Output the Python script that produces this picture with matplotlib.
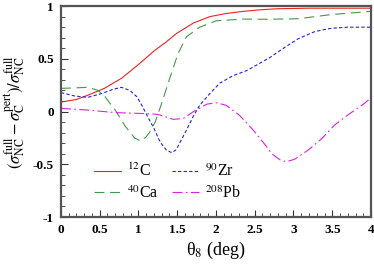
import matplotlib
matplotlib.use('Agg')
import matplotlib.pyplot as plt
import numpy as np
from matplotlib.ticker import MultipleLocator

plt.rcParams['font.family'] = 'serif'
plt.rcParams['font.serif'] = ['Liberation Serif', 'DejaVu Serif']
plt.rcParams['mathtext.fontset'] = 'stix'
plt.rcParams['axes.unicode_minus'] = False

# 12C
x_c = [0, 0.2, 0.35, 0.56, 0.78, 0.99, 1.21, 1.34, 1.49, 1.71, 1.92, 2.13, 2.35, 2.57, 2.8, 3.2, 3.6, 4.0]
y_c = [0.09, 0.115, 0.156, 0.22, 0.315, 0.44, 0.58, 0.65, 0.74, 0.84, 0.90, 0.93, 0.95, 0.965, 0.975, 0.98, 0.98, 0.98]

# 40Ca
x_ca = [0, 0.2, 0.35, 0.48, 0.57, 0.63, 0.70, 0.83, 0.95, 1.03, 1.1, 1.15, 1.22, 1.30, 1.41, 1.51, 1.62,
        1.79, 2.0, 2.35, 2.65, 3.06, 3.49, 4.0]
y_ca = [0.22, 0.225, 0.23, 0.20, 0.14, 0.08, 0.014, -0.14, -0.25, -0.28, -0.24, -0.19, -0.09, 0.08, 0.33, 0.55, 0.71,
        0.80, 0.86, 0.877, 0.875, 0.88, 0.92, 0.95]

# 90Zr
x_zr = [0, 0.18, 0.35, 0.52, 0.67, 0.78, 0.89, 0.98, 1.05, 1.12, 1.20, 1.28, 1.36, 1.43, 1.49, 1.53, 1.62,
        1.71, 1.79, 1.92, 2.05, 2.22, 2.40, 2.57, 2.69, 2.89, 3.06, 3.28, 3.49, 3.70, 4.0]
y_zr = [0.18, 0.147, 0.135, 0.17, 0.21, 0.23, 0.20, 0.14, 0.05, -0.05, -0.16, -0.29, -0.365, -0.39, -0.36, -0.30, -0.175,
        -0.04, 0.06, 0.17, 0.27, 0.34, 0.39, 0.46, 0.51, 0.61, 0.69, 0.76, 0.79, 0.80, 0.80]

# 208Pb
x_pb = [0, 0.35, 0.70, 1.0, 1.21, 1.28, 1.45, 1.58, 1.71, 1.88, 2.0, 2.13, 2.30, 2.48, 2.65, 2.72, 2.83,
        2.91, 3.02, 3.19, 3.36, 3.53, 3.70, 3.92, 4.0]
y_pb = [0.03, 0.014, -0.01, -0.017, -0.024, -0.033, -0.074, -0.065, 0.0, 0.07, 0.084, 0.06, -0.033, -0.175, -0.33, -0.40, -0.46,
        -0.476, -0.45, -0.365, -0.26, -0.128, -0.033, 0.08, 0.13]

fig = plt.figure(figsize=(3.74, 2.65), dpi=100)
ax = fig.add_axes([0.163, 0.181, 0.829, 0.796])

lw = 0.8
ax.plot(x_c, y_c, color='#ee2222', lw=lw, label=r'$^{12}$C')
ax.plot(x_zr, y_zr, color='#2222dd', lw=lw, dashes=(3, 2), label=r'$^{90}$Zr')
ax.plot(x_ca, y_ca, color='#44994a', lw=lw, dashes=(9, 5), label=r'$^{40}$Ca')
ax.plot(x_pb, y_pb, color='#dd22dd', lw=lw, dashes=(9, 3, 1.5, 3), label=r'$^{208}$Pb')

ax.set_xlim(0, 4)
ax.set_ylim(-1, 1)
ax.xaxis.set_minor_locator(MultipleLocator(0.1))
ax.yaxis.set_minor_locator(MultipleLocator(0.1))
ax.set_xticks([0, 0.5, 1, 1.5, 2, 2.5, 3, 3.5, 4])
ax.set_xticklabels(['0', '0.5', '1', '1.5', '2', '2.5', '3', '3.5', '4'])
ax.set_yticks([-1, -0.5, 0, 0.5, 1])
ax.set_yticklabels(['-1', '-0.5', '0', '0.5', '1'])
ax.tick_params(which='both', direction='in', top=False, right=False, labelsize=9.5, pad=5, color='#333333')
ax.tick_params(which='major', length=5, width=0.8)
ax.tick_params(which='minor', length=3, width=0.6)
for lab in ax.get_xticklabels() + ax.get_yticklabels():
    lab.set_fontweight('bold')

for sp in ax.spines.values():
    sp.set_color('#555555')
    sp.set_linewidth(1.6)

ax.set_xlabel('θ$_8$ (deg)', fontsize=13)
ax.xaxis.set_label_coords(0.5, -0.11)
ax.set_ylabel(r'$(\sigma_{\rm NC}^{\rm full}-\sigma_{\rm C}^{\rm pert})/\sigma_{\rm NC}^{\rm full}$', fontsize=12)
ax.yaxis.set_label_coords(-0.11, 0.5)

handles, labels = ax.get_legend_handles_labels()
order = [0, 2, 1, 3]
ax.legend([handles[i] for i in order], [labels[i] for i in order], ncol=2, frameon=False,
          loc='center', bbox_to_anchor=(0.344, 0.165), fontsize=11.5,
          handlelength=1.7, handletextpad=0.4, columnspacing=0.8, labelspacing=0.3)

fig.savefig('out.png', dpi=100)
